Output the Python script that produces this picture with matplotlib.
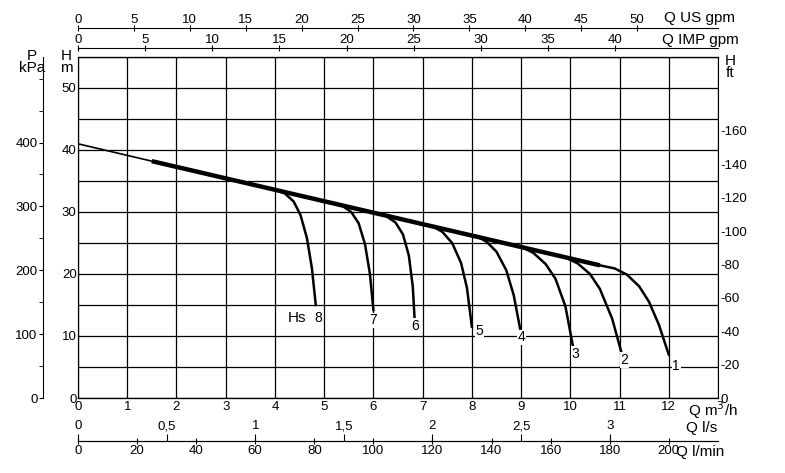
import matplotlib
matplotlib.use("Agg")
import matplotlib.pyplot as plt

plt.rcParams['font.family'] = ['Liberation Sans', 'DejaVu Sans']
plt.rcParams['font.size'] = 9.5

# main duty line (m3/h, m)
main_q = [0.0, 1.5, 10.6]
main_h = [41.0, 38.2, 21.4]

# setting curves branching off the main line
curves = {
    '1': ([10.6, 10.9, 11.15, 11.4, 11.6, 11.8, 12.0], [21.4, 20.9, 19.9, 18.0, 15.5, 11.8, 7.0]),
    '2': ([9.6, 9.9, 10.15, 10.4, 10.6, 10.85, 11.05], [23.2, 22.7, 21.7, 20.0, 17.6, 12.8, 7.0]),
    '3': ([8.7, 9.0, 9.25, 9.5, 9.7, 9.9, 10.05], [24.9, 24.4, 23.4, 21.6, 19.2, 14.8, 8.5]),
    '4': ([7.8, 8.1, 8.3, 8.5, 8.7, 8.85, 8.98], [26.6, 26.1, 25.2, 23.6, 20.6, 16.6, 11.2]),
    '5': ([6.9, 7.2, 7.4, 7.6, 7.78, 7.9, 8.0], [28.2, 27.7, 26.8, 25.0, 21.8, 17.8, 11.5]),
    '6': ([6.0, 6.25, 6.45, 6.6, 6.72, 6.8, 6.85], [29.9, 29.4, 28.3, 26.4, 23.0, 18.0, 11.0]),
    '7': ([5.1, 5.35, 5.55, 5.7, 5.83, 5.93, 6.0], [31.6, 31.1, 30.0, 28.2, 24.8, 20.0, 14.2]),
    '8': ([4.0, 4.2, 4.38, 4.52, 4.65, 4.75, 4.83], [33.6, 33.0, 31.7, 29.5, 25.8, 21.0, 15.0]),
}
label_pos = {'1': (12.15, 5.1), '2': (11.1, 6.1), '3': (10.1, 7.1), '4': (9.0, 9.8),
             '5': (8.15, 10.8), '6': (6.85, 11.6), '7': (6.0, 12.5), '8': (4.88, 12.9)}

us_ticks = [0, 5, 10, 15, 20, 25, 30, 35, 40, 45, 50]
imp_ticks = [0, 5, 10, 15, 20, 25, 30, 35, 40]
ls_ticks = [0, 0.5, 1, 1.5, 2, 2.5, 3]
ls_labels = ['0', '0,5', '1', '1,5', '2', '2,5', '3']
lmin_ticks = [0, 20, 40, 60, 80, 100, 120, 140, 160, 180, 200]
ft_ticks = [0, 20, 40, 60, 80, 100, 120, 140, 160]
kpa_ticks = [0, 100, 200, 300, 400]

QMAX, HMAX = 13, 55
M_PER_FT = 0.2693   # as drawn on the chart
M_PER_KPA = 0.103
PT = 0.72  # points per pixel at 100 dpi

fig = plt.figure(figsize=(7.85, 4.73), dpi=100)
ax = fig.add_axes([78/785, 1-398/473, 640/785, 341/473])
ax.set_xlim(0, QMAX)
ax.set_ylim(0, HMAX)
ax.set_xticks(range(0, 13))
ax.set_yticks(range(0, 51, 10))
ax.set_xticks(range(0, 14), minor=True)
ax.set_yticks(range(0, 56, 5), minor=True)
ax.grid(True, which='both', color='black', lw=0.9)
ax.tick_params(which='both', length=0, pad=2)
ax.tick_params(axis='y', pad=1)

ax.plot(main_q[:2], main_h[:2], color='black', lw=1.2)
ax.plot(main_q[1:], main_h[1:], color='black', lw=3.2, solid_capstyle='butt')
for k, (q, h) in curves.items():
    ax.plot(q, h, color='black', lw=1.8)
    ax.text(*label_pos[k], k, ha='center', va='center', fontsize=10,
            bbox=dict(fc='white', ec='none', pad=0.5))
ax.text(4.45, 12.9, 'Hs', ha='center', va='center', fontsize=11)

# right ft axis
axr = ax.twinx()
axr.set_ylim(0, HMAX / M_PER_FT)
axr.set_yticks(ft_ticks)
axr.set_yticklabels(['0'] + ['-' + str(t) for t in ft_ticks[1:]])
axr.tick_params(length=0, pad=2)
axr.spines['right'].set_visible(False)

# left kPa axis
axp = ax.twinx()
axp.set_ylim(0, HMAX / M_PER_KPA)
axp.yaxis.set_ticks_position('left')
axp.spines['left'].set_position(('outward', 35 * PT))
axp.spines['right'].set_visible(False)
axp.set_yticks(kpa_ticks)
axp.set_yticks(range(0, 501, 50), minor=True)
axp.tick_params(which='both', length=3, direction='out', pad=1)

# top US gpm and IMP gpm
for factor, off, ticks in [(4.403, 29, us_ticks), (3.666, 9, imp_ticks)]:
    at = ax.twiny()
    at.set_xlim(0, QMAX * factor)
    at.spines['top'].set_position(('outward', off * PT))
    for s in ['bottom', 'left', 'right']:
        at.spines[s].set_visible(False)
    at.set_xticks(ticks)
    at.tick_params(length=5, direction='inout', pad=-1)
fig.text(664/785, 1-18/473, 'Q US gpm', ha='left', va='center', fontsize=11)
fig.text(662/785, 1-40/473, 'Q IMP gpm', ha='left', va='center', fontsize=11)

# bottom l/min and l/s
alm = ax.twiny()
alm.set_xlim(0, QMAX * 1000 / 60)
alm.xaxis.set_ticks_position('bottom')
alm.spines['bottom'].set_position(('outward', 43 * PT))
for s in ['top', 'left', 'right']:
    alm.spines[s].set_visible(False)
alm.set_xticks(lmin_ticks)
alm.tick_params(length=4, direction='inout', pad=1)

als = ax.twiny()
als.set_xlim(0, QMAX / 3.6)
als.xaxis.set_ticks_position('bottom')
als.spines['bottom'].set_position(('outward', 43 * PT))
for s in ['top', 'left', 'right']:
    als.spines[s].set_visible(False)
als.set_xticks(ls_ticks)
als.set_xticklabels(ls_labels)
als.tick_params(length=5, direction='in', pad=-15)

fig.text(688/785, 1-410/473, 'Q m$^3$/h', ha='left', va='center', fontsize=11)
fig.text(686/785, 1-428/473, 'Q l/s', ha='left', va='center', fontsize=11)
fig.text(676/785, 1-452/473, 'Q l/min', ha='left', va='center', fontsize=11)
fig.text(32/785, 1-62/473, 'P\nkPa', ha='center', va='center', fontsize=11, linespacing=0.9)
fig.text(66/785, 1-62/473, 'H\nm', ha='center', va='center', fontsize=11, linespacing=0.9)
fig.text(730/785, 1-67/473, 'H\nft', ha='center', va='center', fontsize=11, linespacing=0.9)

fig.savefig('out.png', dpi=100)
